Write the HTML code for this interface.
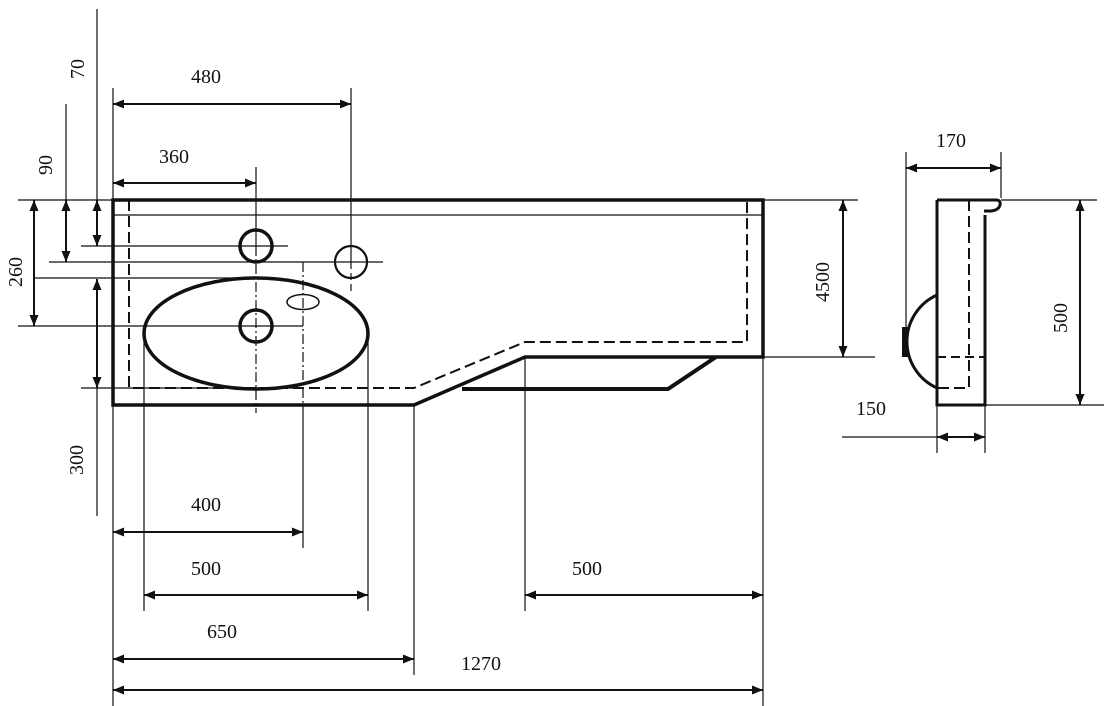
<!DOCTYPE html>
<html><head><meta charset="utf-8"><style>
html,body{margin:0;padding:0;background:#fff;}
svg{display:block;}
text{font-family:"Liberation Serif",serif;font-size:20px;fill:#111;}
</style></head><body>
<svg width="1104" height="706" viewBox="0 0 1104 706" xmlns="http://www.w3.org/2000/svg">
<g stroke="#111" stroke-width="1.2" fill="none">
  <!-- left extension lines -->
  <line x1="97" y1="9" x2="97" y2="200"/>
  <line x1="97" y1="388" x2="97" y2="516"/>
  <line x1="66" y1="104" x2="66" y2="200"/>
  <line x1="18" y1="200" x2="113" y2="200"/>
  <line x1="81" y1="246" x2="288" y2="246"/>
  <line x1="49" y1="262" x2="383" y2="262"/>
  <line x1="35" y1="278" x2="257" y2="278"/>
  <line x1="18" y1="326" x2="303" y2="326"/>
  <line x1="81" y1="388" x2="297" y2="388"/>
  <line x1="113" y1="88" x2="113" y2="706"/>
  <line x1="351" y1="88" x2="351" y2="262"/>
  <line x1="351" y1="262" x2="351" y2="293" stroke-dasharray="7 4"/>
  <line x1="256" y1="167" x2="256" y2="246"/>
  <line x1="256" y1="246" x2="256" y2="413" stroke-dasharray="10 3 2 3"/>
  <line x1="303" y1="262" x2="303" y2="407" stroke-dasharray="10 3 2 3"/>
  <line x1="303" y1="407" x2="303" y2="548"/>
  <line x1="144" y1="333" x2="144" y2="611"/>
  <line x1="368" y1="333" x2="368" y2="611"/>
  <line x1="414" y1="405" x2="414" y2="675"/>
  <line x1="525" y1="357" x2="525" y2="611"/>
  <line x1="763" y1="357" x2="763" y2="706"/>
  <line x1="763" y1="200" x2="858" y2="200"/>
  <line x1="763" y1="357" x2="875" y2="357"/>
  <line x1="113" y1="215" x2="763" y2="215"/>
  <!-- side view ext lines -->
  <line x1="906" y1="152" x2="906" y2="327"/>
  <line x1="1001" y1="152" x2="1001" y2="198"/>
  <line x1="1001" y1="200" x2="1097" y2="200"/>
  <line x1="985" y1="405" x2="1104" y2="405"/>
  <line x1="937" y1="405" x2="937" y2="453"/>
  <line x1="985" y1="405" x2="985" y2="453"/>
  <line x1="842" y1="437" x2="937" y2="437"/>
</g>

<!-- main plan outlines -->
<g stroke="#111" fill="none">
  <path d="M113,200 L763,200 L763,357 L525,357 L414,405 L113,405 Z" stroke-width="3.5" stroke-linejoin="miter"/>
  <path d="M129,200 L129,388 L414,388 L525,342 L747,342 L747,200" stroke-width="2" stroke-dasharray="11 5"/>
  <path d="M462,389 L668,389 L716,357" stroke-width="4"/>
  <circle cx="256" cy="246" r="16" stroke-width="3.5"/>
  <circle cx="351" cy="262" r="16" stroke-width="2.2"/>
  <circle cx="256" cy="326" r="16" stroke-width="3.5"/>
  <ellipse cx="256" cy="333.5" rx="112" ry="55.5" stroke-width="3.5"/>
  <ellipse cx="303" cy="302" rx="16" ry="7.5" stroke-width="1.5"/>
</g>

<!-- side view -->
<g stroke="#111" fill="none">
  <path d="M937,200 L937,405 L985,405 L985,215" stroke-width="3"/>
  <path d="M937,200 L996,200 Q1001,200 1000,205 Q999,210 991,211 L984,211" stroke-width="3"/>
  <path d="M969,200 L969,388 L937,388" stroke-width="2" stroke-dasharray="11 5"/>
  <line x1="937" y1="357" x2="985" y2="357" stroke-width="2" stroke-dasharray="9 5"/>
  <path d="M937,295 A51,51 0 0 0 937,388" stroke-width="3"/>
</g>
<rect x="902" y="327" width="6" height="30" fill="#111"/>

<!-- dimension lines -->
<g stroke="#111" stroke-width="2">
  <line x1="113" y1="104" x2="351" y2="104"/>
  <line x1="113" y1="183" x2="256" y2="183"/>
  <line x1="113" y1="532" x2="303" y2="532"/>
  <line x1="144" y1="595" x2="368" y2="595"/>
  <line x1="113" y1="659" x2="414" y2="659"/>
  <line x1="113" y1="690" x2="763" y2="690"/>
  <line x1="525" y1="595" x2="763" y2="595"/>
  <line x1="906" y1="168" x2="1001" y2="168"/>
  <line x1="937" y1="437" x2="985" y2="437"/>
  <line x1="97" y1="200" x2="97" y2="246"/>
  <line x1="97" y1="279" x2="97" y2="388"/>
  <line x1="66" y1="200" x2="66" y2="262"/>
  <line x1="34" y1="200" x2="34" y2="326"/>
  <line x1="843" y1="200" x2="843" y2="357"/>
  <line x1="1080" y1="200" x2="1080" y2="405"/>
</g>

<!-- arrowheads -->
<g fill="#111">
  <!-- horizontal: left-pointing at x1, right-pointing at x2 -->
  <polygon points="113,104 124,99.5 124,108.5"/><polygon points="351,104 340,99.5 340,108.5"/>
  <polygon points="113,183 124,178.5 124,187.5"/><polygon points="256,183 245,178.5 245,187.5"/>
  <polygon points="113,532 124,527.5 124,536.5"/><polygon points="303,532 292,527.5 292,536.5"/>
  <polygon points="144,595 155,590.5 155,599.5"/><polygon points="368,595 357,590.5 357,599.5"/>
  <polygon points="113,659 124,654.5 124,663.5"/><polygon points="414,659 403,654.5 403,663.5"/>
  <polygon points="113,690 124,685.5 124,694.5"/><polygon points="763,690 752,685.5 752,694.5"/>
  <polygon points="525,595 536,590.5 536,599.5"/><polygon points="763,595 752,590.5 752,599.5"/>
  <polygon points="906,168 917,163.5 917,172.5"/><polygon points="1001,168 990,163.5 990,172.5"/>
  <polygon points="937,437 948,432.5 948,441.5"/><polygon points="985,437 974,432.5 974,441.5"/>
  <!-- vertical -->
  <polygon points="97,200 92.5,211 101.5,211"/><polygon points="97,246 92.5,235 101.5,235"/>
  <polygon points="97,279 92.5,290 101.5,290"/><polygon points="97,388 92.5,377 101.5,377"/>
  <polygon points="66,200 61.5,211 70.5,211"/><polygon points="66,262 61.5,251 70.5,251"/>
  <polygon points="34,200 29.5,211 38.5,211"/><polygon points="34,326 29.5,315 38.5,315"/>
  <polygon points="843,200 838.5,211 847.5,211"/><polygon points="843,357 838.5,346 847.5,346"/>
  <polygon points="1080,200 1075.5,211 1084.5,211"/><polygon points="1080,405 1075.5,394 1084.5,394"/>
</g>

<!-- labels -->
<g text-anchor="middle">
  <text x="206" y="83">480</text>
  <text x="174" y="163">360</text>
  <text x="206" y="511">400</text>
  <text x="206" y="575">500</text>
  <text x="222" y="638">650</text>
  <text x="481" y="670">1270</text>
  <text x="587" y="575">500</text>
  <text x="951" y="147">170</text>
  <text x="871" y="415">150</text>
  <text transform="translate(77,69) rotate(-90)" x="0" y="7">70</text>
  <text transform="translate(45,165) rotate(-90)" x="0" y="7">90</text>
  <text transform="translate(15,272) rotate(-90)" x="0" y="7">260</text>
  <text transform="translate(76,460) rotate(-90)" x="0" y="7">300</text>
  <text transform="translate(822,282) rotate(-90)" x="0" y="7">4500</text>
  <text transform="translate(1060,318) rotate(-90)" x="0" y="7">500</text>
</g>
</svg>
</body></html>
